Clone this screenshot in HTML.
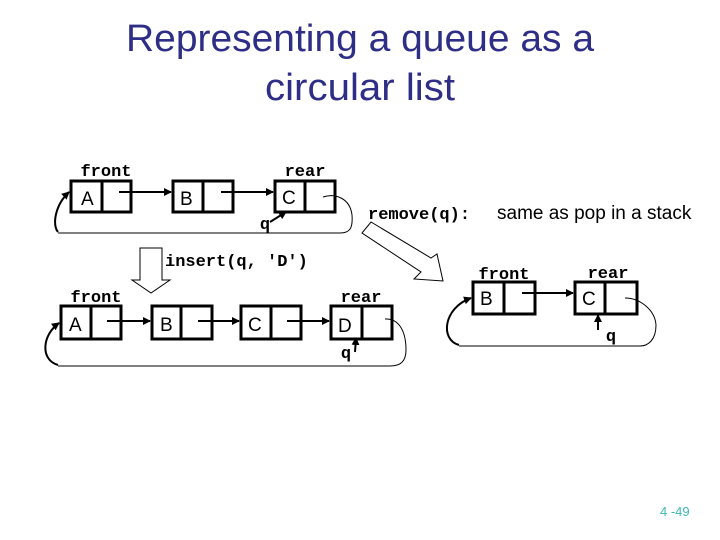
<!DOCTYPE html>
<html><head><meta charset="utf-8"><style>
html,body{margin:0;padding:0;background:#fff;}
svg{display:block;}
.m{font-family:"Liberation Mono",monospace;font-weight:bold;font-size:17px;fill:#000;}
.s{font-family:"Liberation Sans",sans-serif;font-size:19px;fill:#000;}
</style></head><body>
<svg width="720" height="540" viewBox="0 0 720 540" xmlns="http://www.w3.org/2000/svg">
<defs><marker id="ah" markerWidth="8" markerHeight="8" refX="7" refY="4" orient="auto" markerUnits="userSpaceOnUse"><path d="M0,0 L8,4 L0,8 z" fill="#000"/></marker></defs>
<text x="360" y="51" text-anchor="middle" font-family="Liberation Sans,sans-serif" font-size="38" fill="#2e2e86" textLength="468" lengthAdjust="spacingAndGlyphs">Representing a queue as a</text>
<text x="360" y="100" text-anchor="middle" font-family="Liberation Sans,sans-serif" font-size="38" fill="#2e2e86" textLength="190" lengthAdjust="spacingAndGlyphs">circular list</text>

<g fill="none" stroke="#000" stroke-width="3">
<rect x="71" y="181" width="60" height="31"/><line x1="102" y1="181" x2="102" y2="212"/>
<rect x="173" y="181" width="60" height="31"/><line x1="203" y1="181" x2="203" y2="212"/>
<rect x="275" y="181" width="60" height="31"/><line x1="305" y1="181" x2="305" y2="212"/>
<rect x="61" y="306" width="60" height="33"/><line x1="91" y1="306" x2="91" y2="339"/>
<rect x="152" y="306" width="60" height="33"/><line x1="181" y1="306" x2="181" y2="339"/>
<rect x="241" y="306" width="60" height="33"/><line x1="271" y1="306" x2="271" y2="339"/>
<rect x="331" y="306" width="61" height="33"/><line x1="362" y1="306" x2="362" y2="339"/>
<rect x="473" y="282" width="62" height="32"/><line x1="504" y1="282" x2="504" y2="314"/>
<rect x="575" y="282" width="62" height="32"/><line x1="605" y1="282" x2="605" y2="314"/>
</g>
<g stroke="#000" stroke-width="2" fill="none">
<line x1="119" y1="192" x2="171" y2="192" marker-end="url(#ah)"/>
<line x1="221" y1="192" x2="273" y2="192" marker-end="url(#ah)"/>
<line x1="107" y1="321" x2="150" y2="321" marker-end="url(#ah)"/>
<line x1="198" y1="321" x2="239" y2="321" marker-end="url(#ah)"/>
<line x1="287" y1="321" x2="329" y2="321" marker-end="url(#ah)"/>
<line x1="522" y1="293" x2="573" y2="293" marker-end="url(#ah)"/>
<line x1="270" y1="222" x2="286" y2="212" marker-end="url(#ah)"/>
<line x1="355" y1="352" x2="356" y2="338" marker-end="url(#ah)"/>
<line x1="598" y1="330" x2="598" y2="315" marker-end="url(#ah)"/>
<path d="M58,232 C52,225 55,205 69,192" marker-end="url(#ah)"/>
<path d="M58,365 C40,360 42,335 59,323" marker-end="url(#ah)"/>
<path d="M459,345 C440,340 443,308 471,298" marker-end="url(#ah)"/>
</g>
<g stroke="#000" stroke-width="1" fill="none">
<path d="M323,197 C335,193 350,198 352,215 C353,228 350,233 340,233 L58,233"/>
<path d="M385,319 C398,318 406,330 406,350 C406,362 400,366 390,366 L58,366"/>
<path d="M625,298 C640,298 655,310 656,325 C656,340 648,346 640,346 L459,346"/>
<polygon points="140,248 162,248 162,280 170,280 151,293 132,280 140,280"/>
<polygon points="371,222 431,258 437,254 443,281 414,279 421,272 362,233"/>
</g>
<text class="m" x="106" y="176" text-anchor="middle">front</text>
<text class="m" x="305" y="176" text-anchor="middle">rear</text>
<text class="m" x="265" y="229" text-anchor="middle">q</text>
<text class="m" x="165" y="266">insert(q, 'D')</text>
<text class="m" x="96" y="302" text-anchor="middle">front</text>
<text class="m" x="361" y="302" text-anchor="middle">rear</text>
<text class="m" x="346" y="358" text-anchor="middle">q</text>
<text class="m" x="368" y="219">remove(q):</text>
<text class="s" x="497" y="219" font-size="18">same as pop in a stack</text>
<text class="m" x="504" y="279" text-anchor="middle">front</text>
<text class="m" x="608" y="278" text-anchor="middle">rear</text>
<text class="m" x="611" y="341" text-anchor="middle">q</text>
<text class="s" x="81" y="205">A</text>
<text class="s" x="180" y="205">B</text>
<text class="s" x="282" y="204">C</text>
<text class="s" x="69" y="331">A</text>
<text class="s" x="160" y="331">B</text>
<text class="s" x="248" y="331">C</text>
<text class="s" x="338" y="332">D</text>
<text class="s" x="480" y="305">B</text>
<text class="s" x="582" y="305">C</text>
<text x="660" y="516" font-family="Liberation Sans,sans-serif" font-size="13" fill="#3cb8b8">4 -49</text>
</svg>
</body></html>
